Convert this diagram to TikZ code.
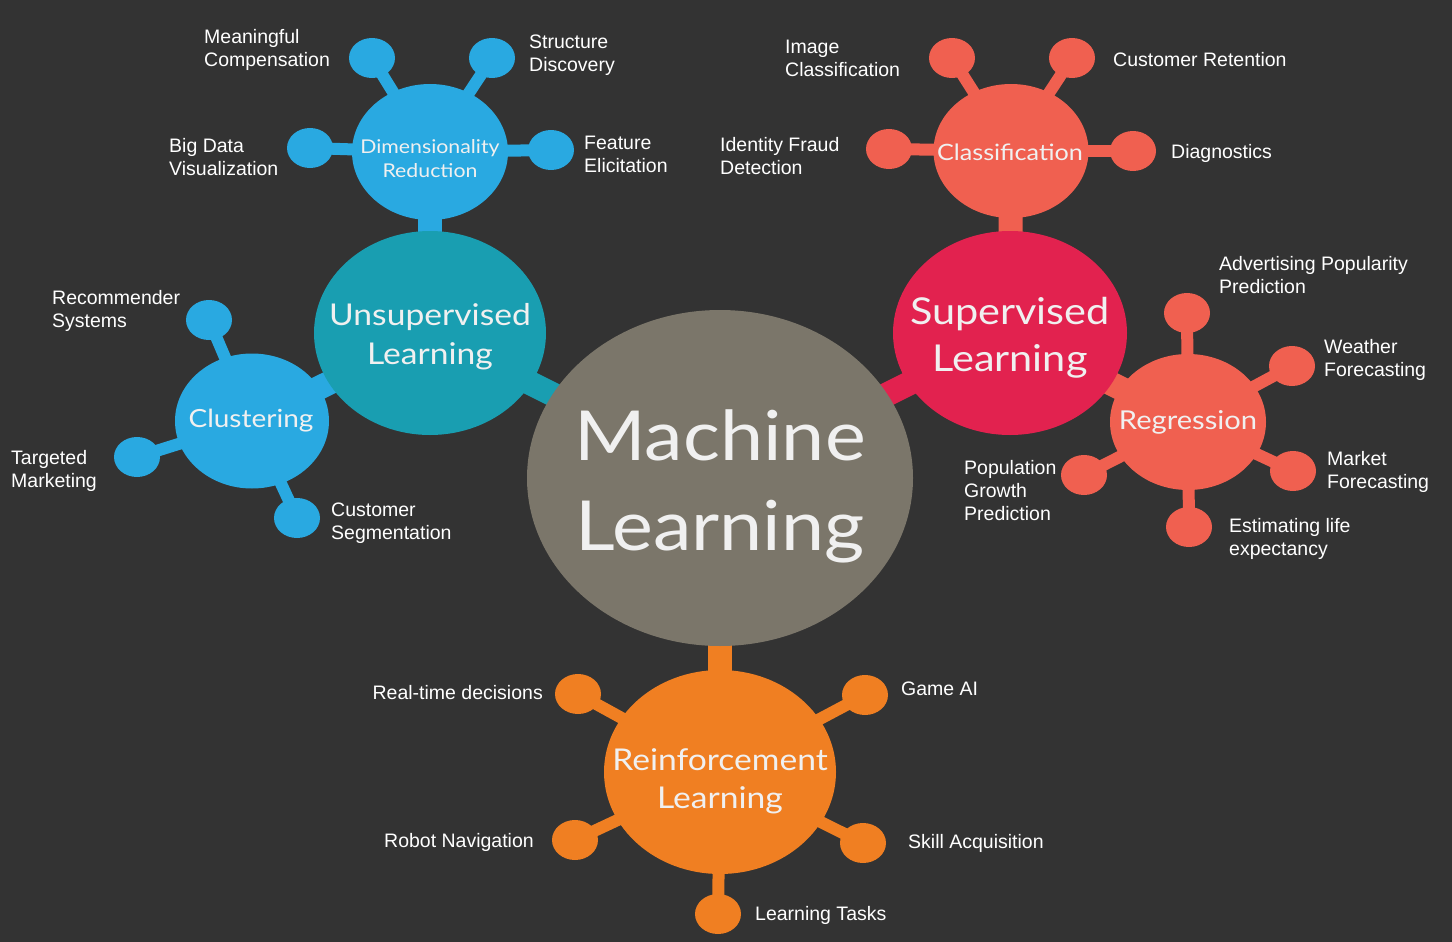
\documentclass[tikz,border=0pt]{standalone}
\usepackage{fontspec}
\setmainfont{Liberation Sans}
\newfontfamily\gillfont[FakeStretch=1.12]{Lato}
\usepackage{tikz}
\usetikzlibrary{shapes.geometric,backgrounds}
\definecolor{bgdark}{RGB}{51,51,51}
\definecolor{mlgray}{RGB}{123,118,106}
\definecolor{unsupteal}{RGB}{25,158,177}
\definecolor{skyblue}{RGB}{41,169,225}
\definecolor{coral}{RGB}{240,96,80}
\definecolor{crimson}{RGB}{226,34,79}
\definecolor{mlorange}{RGB}{240,127,34}

\begin{document}
\begin{tikzpicture}[x=1pt,y=-1pt,
	blob/.style={ellipse,inner sep=0pt,fill=#1},
	sat/.style={ellipse,inner sep=0pt,fill=#1,minimum width=46pt,minimum height=40pt},
	stub/.style={line width=12pt,#1},
	bar/.style={line width=24pt,#1},
	lbl/.style={anchor=west,align=left,inner sep=0pt,text=white,
		font=\fontsize{19.5}{23}\selectfont},
	rlbl/.style={lbl,anchor=east,align=right},
	hubtext/.style={text=white!94!black,align=center,inner sep=0pt}]
		
		\useasboundingbox (0,0) rectangle (1452,942);
		
		% the big circles
		\node[blob=mlgray,minimum width=386pt,minimum height=336pt]
		(ml) at (720,478) {};
		\node[blob=unsupteal,minimum width=232pt,minimum height=204pt]
		(us) at (430,333) {};
		\node[blob=crimson,minimum width=234pt,minimum height=204pt]
		(sv) at (1010,333) {};
		\node[blob=mlorange,minimum width=232pt,minimum height=204pt]
		(rf) at (720,772) {};
		
		% the middle circles
		\node[blob=skyblue,minimum width=156pt,minimum height=136pt]
		(dr) at (430,152) {};
		\node[blob=skyblue,minimum width=154pt,minimum height=135pt]
		(cl) at (252,421) {};
		\node[blob=coral,minimum width=155pt,minimum height=134pt]
		(cf) at (1011,151) {};
		\node[blob=coral,minimum width=156pt,minimum height=136pt]
		(rg) at (1188,422) {};
		
		% texts in the circles
		\node[hubtext,font=\gillfont\fontsize{69}{90}\selectfont]
		(ml-t) at (720,486) {Machine\\Learning};
		\node[hubtext,font=\gillfont\fontsize{30}{39}\selectfont]
		(us-t) at (430,337) {Unsupervised\\Learning};
		\node[hubtext,font=\gillfont\fontsize{37}{47}\selectfont]
		(sv-t) at (1010,338) {Supervised\\Learning};
		\node[hubtext,font=\gillfont\fontsize{30}{38}\selectfont]
		(rf-t) at (720,781) {Reinforcement\\Learning};
		\node[hubtext,font=\gillfont\fontsize{19}{24}\selectfont]
		(dr-t) at (430,159) {Dimensionality\\Reduction};
		\node[hubtext,font=\gillfont\fontsize{25}{30}\selectfont]
		(cl-t) at (251,421) {Clustering};
		\node[hubtext,font=\gillfont\fontsize{22.5}{28}\selectfont]
		(cf-t) at (1010,152) {Classification};
		\node[hubtext,font=\gillfont\fontsize{26}{30}\selectfont]
		(rg-t) at (1188,422) {Regression};
		
		% small circles
		\node[sat=skyblue] (dr1) at (372,58) {};
		\node[sat=skyblue] (dr2) at (492,58) {};
		\node[sat=skyblue] (dr3) at (310,148) {};
		\node[sat=skyblue] (dr4) at (551,150) {};
		
		\node[sat=skyblue] (cl1) at (209,320) {};
		\node[sat=skyblue] (cl2) at (137,457) {};
		\node[sat=skyblue] (cl3) at (297,518) {};
		
		\node[sat=coral] (cf1) at (952,58) {};
		\node[sat=coral] (cf2) at (1072,58) {};
		\node[sat=coral] (cf3) at (889,149) {};
		\node[sat=coral] (cf4) at (1133,151) {};
		
		\node[sat=coral] (rg1) at (1187,313) {};
		\node[sat=coral] (rg2) at (1292,366) {};
		\node[sat=coral] (rg3) at (1293,471) {};
		\node[sat=coral] (rg4) at (1189,527) {};
		\node[sat=coral] (rg5) at (1084,475) {};
		
		\node[sat=mlorange] (rf1) at (578,694) {};
		\node[sat=mlorange] (rf2) at (865,695) {};
		\node[sat=mlorange] (rf3) at (575,840) {};
		\node[sat=mlorange] (rf4) at (863,843) {};
		\node[sat=mlorange] (rf5) at (718,914) {};
		
		% links, behind everything
		\begin{pgfonlayer}{background}
		\fill[bgdark] (0,0) rectangle (1452,942);
		
		\draw[bar=unsupteal] (us.center) -- (ml.center);
		\draw[bar=crimson] (sv.center) -- (ml.center);
		\draw[bar=mlorange] (rf.center) -- (ml.center);
		\draw[bar=skyblue] (dr.center) -- (us.center);
		\draw[bar=skyblue] (cl.center) -- (us.center);
		\draw[bar=coral] (cf.center) -- (sv.center);
		\draw[bar=coral] (rg.center) -- (sv.center);
		
		\foreach \i in {1,...,4}
		\draw[stub=skyblue] (dr.center) -- (dr\i.center);
		\foreach \i in {1,...,3}
		\draw[stub=skyblue] (cl.center) -- (cl\i.center);
		\foreach \i in {1,...,4}
		\draw[stub=coral] (cf.center) -- (cf\i.center);
		\foreach \i in {1,...,5}
		\draw[stub=coral] (rg.center) -- (rg\i.center);
		\foreach \i in {1,...,5}
		\draw[stub=mlorange] (rf.center) -- (rf\i.center);
		\end{pgfonlayer}
		
		% labels
		\node[lbl] (dr1-l) at (204,50) {Meaningful\\Compensation};
		\node[lbl] (dr2-l) at (529,55) {Structure\\Discovery};
		\node[lbl] (dr3-l) at (169,157) {Big Data\\Visualization};
		\node[lbl] (dr4-l) at (584,154) {Feature\\Elicitation};
		
		\node[lbl] (cl1-l) at (52,311) {Recommender\\Systems};
		\node[lbl] (cl2-l) at (11,471) {Targeted\\Marketing};
		\node[lbl] (cl3-l) at (331,523) {Customer\\Segmentation};
		
		\node[lbl] (cf1-l) at (785,58) {Image\\Classification};
		\node[lbl] (cf2-l) at (1113,60) {Customer Retention};
		\node[lbl] (cf3-l) at (720,156) {Identity Fraud\\Detection};
		\node[lbl] (cf4-l) at (1171,153) {Diagnostics};
		
		\node[lbl] (rg1-l) at (1219,275) {Advertising Popularity\\Prediction};
		\node[lbl] (rg2-l) at (1324,360) {Weather\\Forecasting};
		\node[lbl] (rg3-l) at (1327,472) {Market\\Forecasting};
		\node[lbl] (rg4-l) at (1229,539) {Estimating life\\expectancy};
		\node[lbl] (rg5-l) at (964,491) {Population\\Growth\\Prediction};
		
		\node[rlbl] (rf1-l) at (543,693) {Real-time decisions};
		\node[lbl] (rf2-l) at (901,689) {Game AI};
		\node[rlbl] (rf3-l) at (534,842) {Robot Navigation};
		\node[lbl] (rf4-l) at (908,843) {Skill Acquisition};
		\node[lbl] (rf5-l) at (755,915) {Learning Tasks};
		
	\end{tikzpicture}
\end{document}
